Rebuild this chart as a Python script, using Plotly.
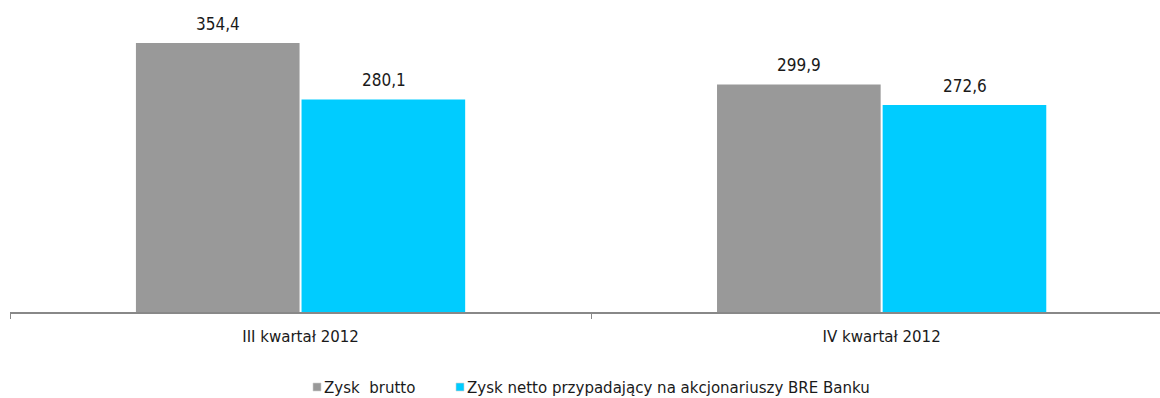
import plotly.graph_objects as go

# Quarterly profit, PLN m
categories = ["III kwartał 2012", "IV kwartał 2012"]
zysk_brutto = [354.4, 299.9]
zysk_netto = [280.1, 272.6]
series_names = ["Zysk  brutto", "Zysk netto przypadający na akcjonariuszy BRE Banku"]
series_colors = ["#999999", "#00CCFF"]

FONT = "DejaVu Sans Condensed, DejaVu Sans, sans-serif"
TEXT = "#1a1a1a"

# pixel geometry of the plot area
L, T, B, W, H = 10, 10, 86, 1160, 398
PW, PH = W - L, H - T - B
BAR_OFFSET = 83  # px from category centre to each bar centre


def fmt(v):
    return f"{v:.1f}".replace(".", ",")


fig = go.Figure()
for name, vals, color in zip(series_names, [zysk_brutto, zysk_netto], series_colors):
    fig.add_trace(go.Bar(
        x=categories, y=vals, name=name,
        marker=dict(color=color, line=dict(width=0)),
        showlegend=False,
    ))

# value labels above bars
for vals, sign in zip([zysk_brutto, zysk_netto], [-1, 1]):
    for cat, v in zip(categories, vals):
        fig.add_annotation(
            x=cat, y=v, text=fmt(v), showarrow=False,
            xanchor="center", yanchor="bottom", xshift=sign * BAR_OFFSET, yshift=7,
            font=dict(size=17, color=TEXT, family=FONT),
        )

# legend: small square swatch followed by the series name
legend_x = [313, 456]
for name, color, px in zip(series_names, series_colors, legend_x):
    x0 = (px - L) / PW
    x1 = (px + 8 - L) / PW
    fig.add_shape(type="rect", xref="paper", yref="paper",
                  x0=x0, x1=x1, y0=(T + PH - 391) / PH, y1=(T + PH - 383) / PH,
                  fillcolor=color, line=dict(color="#d0d0d0", width=0.6))
    fig.add_annotation(xref="paper", yref="paper", x=(px + 9 - L) / PW,
                       y=(T + PH - 387) / PH, text=name, showarrow=False,
                       xanchor="left", yanchor="middle",
                       font=dict(size=16.7, color=TEXT, family=FONT))

fig.update_layout(
    width=W, height=H,
    margin=dict(l=L, r=0, t=T, b=B),
    paper_bgcolor="white", plot_bgcolor="white",
    barmode="group", bargap=0.43, bargroupgap=0.012,
    font=dict(family=FONT, size=16, color=TEXT),
    showlegend=False,
    xaxis=dict(range=[-0.5, 1.479], showline=True, linecolor="#888888", linewidth=2,
               ticks="outside", tickson="boundaries", ticklen=5, tickcolor="#888888",
               ticklabelstandoff=8,
               tickfont=dict(size=16.7, family=FONT, color=TEXT), showgrid=False),
    yaxis=dict(range=[0, PH / 0.759], visible=False, showgrid=False, zeroline=False),
)

fig.write_html("out.html")
